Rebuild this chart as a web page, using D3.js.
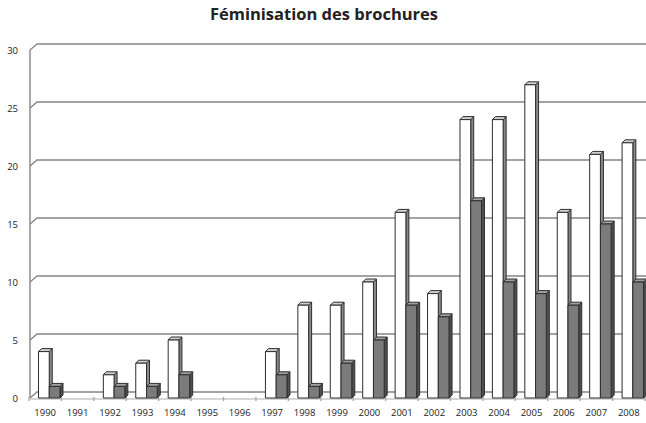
<!DOCTYPE html>
<html>
<head>
<meta charset="utf-8">
<script src="https://cdnjs.cloudflare.com/ajax/libs/d3/7.8.5/d3.min.js"></script>
<style>
  body { margin: 0; background: #fff; }
  text { font-family: "Open Sans", "DejaVu Sans", sans-serif; fill: #222; }
</style>
</head>
<body>
<div id="chart"></div>
<script>
// data
const years = ["1990","1991","1992","1993","1994","1995","1996","1997","1998","1999",
               "2000","2001","2002","2003","2004","2005","2006","2007","2008"];
const serieA = [4,0,2,3,5,0,0,4,8,8,10,16,9,24,24,27,16,21,22];   // white bars
const serieB = [1,0,1,1,2,0,0,2,1,3,5,8,7,17,10,9,8,15,10];       // grey bars
const yTicks = [0,5,10,15,20,25,30];

const W = 646, H = 423;
const depth = 6;      // wall offset for gridlines
const bd = 3;         // bar depth

const svg = d3.select("#chart").append("svg")
  .attr("width", W).attr("height", H);

// title
svg.append("text")
  .attr("x", 324).attr("y", 20)
  .attr("text-anchor", "middle")
  .style("font-size", "16.5px")
  .style("font-weight", 700)
  .text("Féminisation des brochures");

// scales
const x = d3.scaleBand().domain(years).range([29, 645]);
const x1 = d3.scaleBand().domain(["a","b"]).range([9.5, 31]);
const y = d3.scaleLinear().domain([0, 30]).range([398, 50]);

const axisX = 30;

// back wall gridlines + diagonal ticks
const grid = svg.append("g").attr("stroke", "#858585").attr("stroke-width", 1.4).attr("fill", "none");
yTicks.forEach(v => {
  grid.append("path")
    .attr("d", `M${axisX},${y(v)} L${axisX + 7},${y(v) - depth} L${W},${y(v) - depth}`);
});
// vertical axis
grid.append("line")
  .attr("x1", axisX).attr("x2", axisX)
  .attr("y1", y(30)).attr("y2", y(0));
// floor front edge
grid.append("line")
  .attr("x1", axisX).attr("x2", W)
  .attr("y1", y(0) + 1).attr("y2", y(0) + 1)
  .attr("stroke", "#c8c8c8");
// x ticks on floor
years.concat(["end"]).forEach((d, i) => {
  const xx = 29 + i * x.step();
  grid.append("line")
    .attr("x1", xx).attr("x2", xx)
    .attr("y1", y(0) - 1).attr("y2", y(0) + 3)
    .attr("stroke", "#aaa");
});

// y labels
svg.append("g").selectAll("text")
  .data(yTicks).join("text")
  .attr("x", 18).attr("y", d => y(d) + 4)
  .attr("text-anchor", "end")
  .style("font-size", "9.5px")
  .text(d => d);

// x labels
svg.append("g").selectAll("text")
  .data(years).join("text")
  .attr("x", d => x(d) + x.bandwidth() / 2)
  .attr("y", 416)
  .attr("text-anchor", "middle")
  .style("font-size", "9.5px")
  .text(d => d);

// 3d bars
const colors = {
  a: { front: "#ffffff", side: "#8a8a8a", top: "#d0d0d0" },
  b: { front: "#7b7b7b", side: "#4f4f4f", top: "#a0a0a0" }
};

function bar3d(g, x0, w, v, c) {
  if (v <= 0) return;
  const yt = y(v), yb = y(0);
  g.append("path")   // side
    .attr("d", `M${x0 + w},${yt} L${x0 + w + bd},${yt - bd} L${x0 + w + bd},${yb - bd} L${x0 + w},${yb} Z`)
    .attr("fill", c.side);
  g.append("path")   // top
    .attr("d", `M${x0},${yt} L${x0 + bd},${yt - bd} L${x0 + w + bd},${yt - bd} L${x0 + w},${yt} Z`)
    .attr("fill", c.top);
  g.append("rect")   // front
    .attr("x", x0).attr("y", yt)
    .attr("width", w).attr("height", yb - yt)
    .attr("fill", c.front);
}

const bars = svg.append("g")
  .attr("stroke", "#2e2e2e").attr("stroke-width", 1).attr("stroke-linejoin", "round");

years.forEach((yr, i) => {
  const g = bars.append("g");
  bar3d(g, x(yr) + x1("a"), x1.bandwidth(), serieA[i], colors.a);
  bar3d(g, x(yr) + x1("b"), x1.bandwidth(), serieB[i], colors.b);
});
</script>
</body>
</html>
